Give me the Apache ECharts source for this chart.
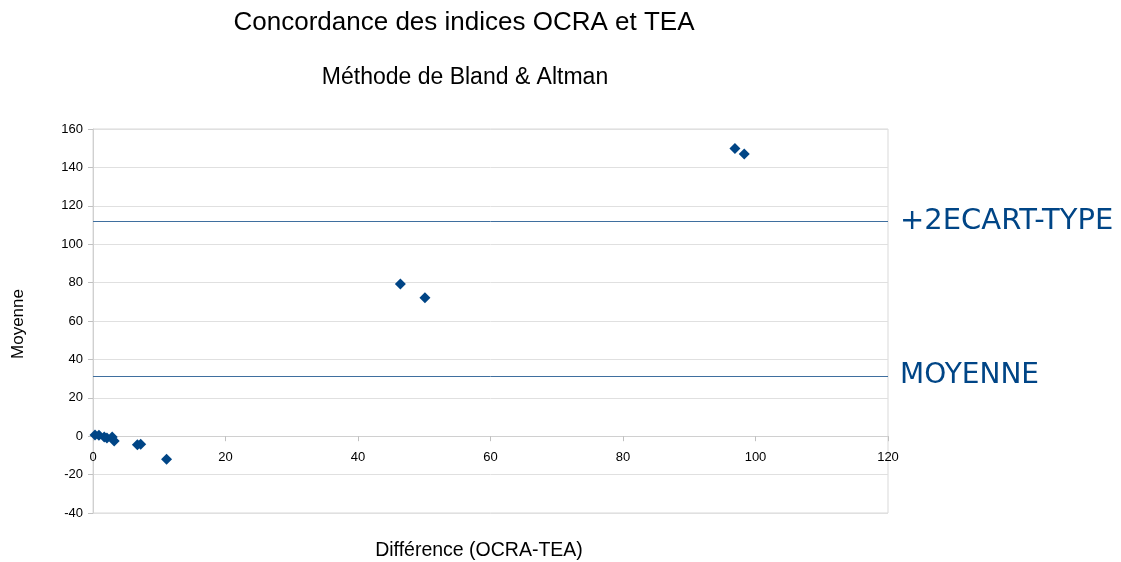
<!DOCTYPE html>
<html>
<head>
<meta charset="utf-8">
<title>Bland & Altman</title>
<script src="https://cdn.jsdelivr.net/npm/echarts@6/dist/echarts.min.js"></script>
<style>
  html, body { margin: 0; padding: 0; background: #fff; }
  #chart { width: 1121px; height: 562px; }
</style>
</head>
<body>
<div id="chart"></div>
<script>
// données
const differences = [0.3, 0.9, 1.7, 2.1, 2.9, 3.2, 6.7, 7.2, 11.1, 46.4, 50.1, 96.9, 98.3]
const moyennes = [0.6, 0.5, -0.4, -0.9, -0.4, -2.5, -4.4, -4.2, -12.0, 79.3, 72.1, 149.9, 147.0]
const moyenneLigne = 31.4
const ecartLigne = 112.1
const xTicks = [0, 120, 20]
const yTicks = [-40, 160, 20]

const points = differences.map((d, i) => [d, moyennes[i]])
const font = 'Liberation Sans, Arial, sans-serif'
const chart = echarts.init(document.getElementById('chart'))

chart.setOption({
  animation: false,
  title: [
    {
      text: 'Concordance des indices OCRA et TEA',
      left: 459,
      top: 5,
      textAlign: 'center',
      textStyle: { fontFamily: font, fontSize: 26, fontWeight: 'normal', color: '#000' }
    },
    {
      text: 'Méthode de Bland & Altman',
      left: 460,
      top: 61,
      textAlign: 'center',
      textStyle: { fontFamily: font, fontSize: 23, fontWeight: 'normal', color: '#000' }
    }
  ],
  graphic: [
    {
      type: 'text',
      x: 479,
      y: 551,
      style: { text: 'Différence (OCRA-TEA)', font: '19.5px ' + font, fill: '#000', align: 'center', verticalAlign: 'middle' }
    },
    {
      type: 'text',
      x: 18,
      y: 324,
      rotation: Math.PI / 2,
      style: { text: 'Moyenne', font: '17px ' + font, fill: '#000', align: 'center', verticalAlign: 'middle' }
    }
  ],
  grid: {
    left: 93,
    right: 233,
    top: 129,
    bottom: 49,
    show: true,
    borderColor: '#d9d9d9',
    borderWidth: 1
  },
  xAxis: {
    type: 'value',
    min: xTicks[0],
    max: xTicks[1],
    interval: xTicks[2],
    axisLine: { onZero: true, lineStyle: { color: '#d0d0d0' } },
    axisTick: { show: true, lineStyle: { color: '#c0c0c0' } },
    // libellés placés sous la ligne du zéro
    axisLabel: { fontFamily: font, fontSize: 13, color: '#000', margin: -62 },
    splitLine: { show: false }
  },
  yAxis: {
    type: 'value',
    min: yTicks[0],
    max: yTicks[1],
    interval: yTicks[2],
    axisLine: { show: true, lineStyle: { color: '#d0d0d0' } },
    axisTick: { show: true, lineStyle: { color: '#c0c0c0' } },
    axisLabel: { fontFamily: font, fontSize: 13, color: '#000', margin: 10 },
    splitLine: { lineStyle: { color: '#e0e0e0' } }
  },
  series: [
    {
      type: 'scatter',
      symbol: 'diamond',
      symbolSize: 11,
      itemStyle: { color: '#004586', opacity: 1 },
      data: points,
      markLine: {
        silent: true,
        symbol: 'none',
        lineStyle: { color: '#3f6f9f', width: 1, type: 'solid', opacity: 1 },
        label: {
          position: 'end',
          distance: 12,
          color: '#004586',
          fontFamily: 'DejaVu Sans, sans-serif'
        },
        data: [
          { yAxis: ecartLigne, label: { formatter: '+2ECART-TYPE', fontSize: 29, offset: [0, 1] } },
          { yAxis: moyenneLigne, label: { formatter: 'MOYENNE', fontSize: 28 } }
        ]
      }
    }
  ]
})
</script>
</body>
</html>
